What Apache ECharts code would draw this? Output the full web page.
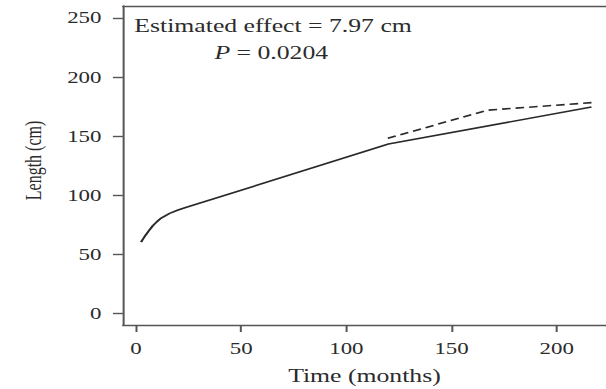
<!DOCTYPE html>
<html>
<head>
<meta charset="utf-8">
<script src="https://cdn.jsdelivr.net/npm/echarts@6/dist/echarts.min.js"></script>
<style>
  html, body { margin: 0; padding: 0; background: #fff; }
  #wrap { width: 606px; height: 389px; overflow: hidden; }
  #chart { width: 424px; height: 389px; transform: scaleX(1.4292); transform-origin: 0 0; }
</style>
</head>
<body>
<div id="wrap"><div id="chart"></div></div>
<script>
// Data
const xTicks = [0, 50, 100, 150, 200];
const yTicks = [0, 50, 100, 150, 200, 250];
const solidTime   = [2.4, 4, 6, 8, 10, 12, 16, 20, 24, 120, 216.5];
const solidLength = [60.2, 64.5, 69.5, 74, 77.5, 80.5, 84.5, 87.3, 89.6, 143.2, 174.5];
const dashTime    = [119.7, 167, 216.5];
const dashLength  = [148, 171.8, 178.2];
const annotationLine1 = 'Estimated effect = 7.97 cm';
const annotationLine2 = '{i|P} = 0.0204';

const ink = '#2b2b2b';
const lineCol = '#555';
const serif = 'Liberation Serif';

const chart = echarts.init(document.getElementById('chart'), null, { renderer: 'svg' });
const pairs = (xs, ys) => xs.map((x, i) => [x, ys[i]]);

chart.setOption({
  animation: false,
  backgroundColor: '#fff',
  title: [
    { text: annotationLine1, left: 94, top: 17, padding: 0,
      textStyle: { fontFamily: serif, fontSize: 18, fontWeight: 'normal', color: ink } },
    { text: annotationLine2, left: 150, top: 44, padding: 0,
      textStyle: { fontFamily: serif, fontSize: 18, fontWeight: 'normal', color: ink,
        rich: { i: { fontFamily: serif, fontSize: 18, fontStyle: 'italic', color: ink } } } }
  ],
  grid: { left: 86, top: 6, right: 0, bottom: 64, show: false, containLabel: false, outerBoundsMode: 'none' },
  xAxis: [{
    type: 'value', min: -6.2, max: 223.4, position: 'bottom',
    name: 'Time (months)', nameLocation: 'middle', nameGap: 42,
    nameTextStyle: { fontFamily: serif, fontSize: 18, color: ink },
    axisLine: { show: true, onZero: false, lineStyle: { color: lineCol, width: 1.4 } },
    axisTick: { show: true, inside: false, length: 7, customValues: xTicks, lineStyle: { color: lineCol, width: 1.4 } },
    axisLabel: { customValues: xTicks, margin: 15, fontFamily: serif, fontSize: 16, color: ink },
    splitLine: { show: false }
  }, {
    type: 'value', min: -6.2, max: 223.4, position: 'top',
    axisLine: { show: true, onZero: false, lineStyle: { color: lineCol, width: 1.4 } },
    axisTick: { show: false }, axisLabel: { show: false }, splitLine: { show: false }
  }],
  yAxis: {
    type: 'value', min: -10, max: 260,
    name: 'Length (cm)', nameLocation: 'middle', nameGap: 55, nameRotate: 90,
    nameTextStyle: { fontFamily: serif, fontSize: 16, color: ink, padding: [0, 0, 0, 10] },
    axisLine: { show: true, onZero: false, lineStyle: { color: lineCol, width: 1.4 } },
    axisTick: { show: true, inside: false, length: 7, customValues: yTicks, lineStyle: { color: lineCol, width: 1.4 } },
    axisLabel: { customValues: yTicks, margin: 15, fontFamily: serif, fontSize: 16, color: ink },
    splitLine: { show: false }
  },
  series: [{
    type: 'line', data: pairs(solidTime, solidLength), showSymbol: false, smooth: false,
    lineStyle: { color: '#2a2a2a', width: 1.6, type: 'solid' }
  }, {
    type: 'line', data: pairs(dashTime, dashLength), showSymbol: false, smooth: false,
    lineStyle: { color: '#2a2a2a', width: 1.6, type: [6, 3.5] }
  }]
});
</script>
</body>
</html>
